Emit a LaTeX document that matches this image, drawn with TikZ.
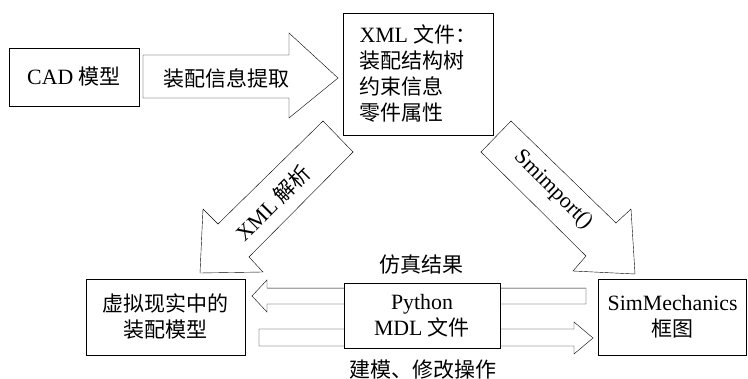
\documentclass[tikz,border=0pt]{standalone}
\usepackage{fontspec}
\setmainfont{Liberation Serif}[Scale=1.04]
\newfontfamily\cjk{Noto Sans CJK SC}
\usetikzlibrary{backgrounds}
\begin{document}
\begin{tikzpicture}[x=1pt,y=-1pt,line width=0.8pt,
  txt/.style={font=\fontsize{21}{26}\selectfont},
  box/.style={draw,fill=white,inner sep=0pt,txt},
  lbl/.style={inner sep=0pt,txt},
  blk/.style={draw,fill=white,line join=miter}]
\useasboundingbox (0,0) rectangle (748,379);

% boxes
\node[box,minimum width=130pt,minimum height=58pt] (cad) at (74,77) {CAD {\cjk 模型}};
\node[box,minimum width=150pt,minimum height=122pt,align=left] (xml) at (418,74)
  {XML {\cjk 文件：}\\{\cjk 装配结构树}\\{\cjk 约束信息}\\{\cjk 零件属性}};
\node[box,minimum width=159pt,minimum height=76pt,align=center] (vr) at (165.5,317)
  {{\cjk 虚拟现实中的}\\{\cjk 装配模型}};
\node[box,minimum width=156pt,minimum height=65pt,align=center] (py) at (422,315.5)
  {Python\\MDL {\cjk 文件}};
\node[box,minimum width=148pt,minimum height=76pt,align=center] (sim) at (672.6,317)
  {SimMechanics\\{\cjk 框图}};

% block arrows (behind the boxes)
\begin{scope}[on background layer]
  \draw[blk] (143,55) -- (289,55) -- (289,33) -- (338,78) -- (289,118) -- (289,98) -- (143,98) -- cycle;
  \draw[blk] (323,121) -- (218,224) -- (203,209) -- (200,273) -- (263,272) -- (249,257) -- (353,152) -- cycle;
  \draw[blk] (511,121) -- (616,223) -- (631,209) -- (635,274) -- (573,271) -- (586,256) -- (481,152) -- cycle;
  \draw[blk] (586,288) -- (267,288) -- (267,280) -- (252,296) -- (267,312) -- (267,304) -- (586,304) -- cycle;
  \draw[gray!70] (586,288) -- (267,288);
  \draw[blk] (259,329) -- (574,329) -- (574,322) -- (593,338) -- (574,354) -- (574,346) -- (259,346) -- cycle;
\end{scope}

% labels
\node[lbl] (l1) at (226,78) {\cjk 装配信息提取};
\node[lbl,rotate=45] (l2) at (273,203) {XML {\cjk 解析}};
\node[lbl,rotate=-45] (l3) at (553,190) {Smimport()};
\node[lbl] (l4) at (421,265) {\cjk 仿真结果};
\node[lbl] (l5) at (423,370) {\cjk 建模、修改操作};
\end{tikzpicture}
\end{document}
